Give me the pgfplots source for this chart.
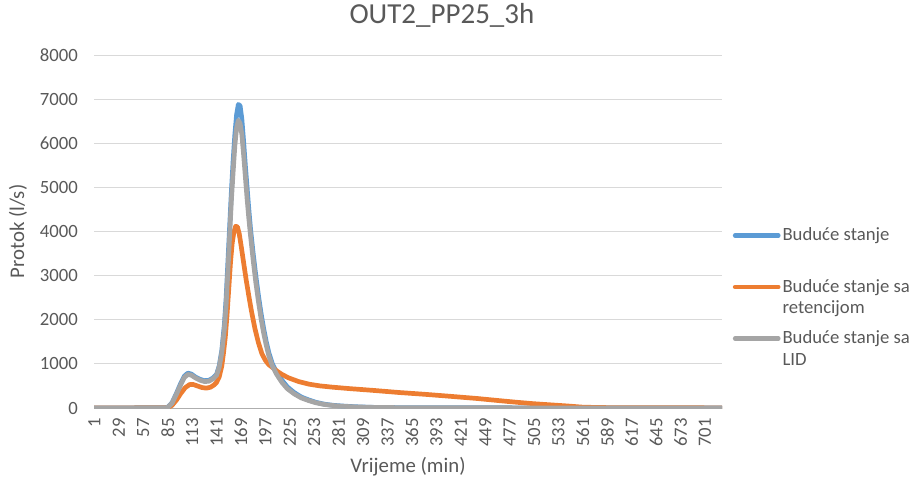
\documentclass[border=0pt]{standalone}
\usepackage{pgfplots}
\pgfplotsset{compat=1.18}
\usepackage{fontspec}
\setmainfont{Carlito}
\definecolor{sblue}{HTML}{5B9BD5}
\definecolor{sorange}{HTML}{ED7D31}
\definecolor{sgray}{HTML}{A5A5A5}
\definecolor{stext}{HTML}{595959}
\definecolor{sgrid}{HTML}{D9D9D9}
\newcommand{\twol}[2]{\vtop{\hbox{#1}\hbox{#2}}}
\begin{document}
\begin{tikzpicture}
\useasboundingbox (0,0) rectangle (909pt,484pt);
\begin{axis}[
  at={(94pt,76pt)}, anchor=south west,
  scale only axis, width=628pt, height=353pt,
  xmin=0.5, xmax=720.5, ymin=0, ymax=8000,
  xtick={1,29,...,701},
  ytick={0,1000,...,8000},
  /pgf/number format/assume math mode=true,
  scaled y ticks=false,
  yticklabel={\pgfmathprintnumber[fixed,set thousands separator={}]{\tick}},
  major tick length=0pt,
  ymajorgrids, grid style={draw=sgrid, line width=1pt},
  axis lines*=left,
  y axis line style={draw=none},
  x axis line style={draw=sgrid!80!black, line width=1pt},
  tick label style={font=\fontsize{18.7}{22}\selectfont, text=stext},
  xticklabel style={rotate=90, anchor=east, inner sep=0pt},
  yticklabel style={anchor=east, inner sep=0pt},
  xticklabel shift=10pt,
  yticklabel shift=16pt,
  title={OUT2\_PP25\_3h},
  title style={at={(axis description cs:0.554,1.095)}, anchor=center, font=\fontsize{29}{34}\selectfont, text=stext},
  xlabel={Vrijeme (min)},
  xlabel style={at={(axis description cs:0.5,-0.167)}, anchor=center, font=\fontsize{20.8}{25}\selectfont, text=stext},
  ylabel={Protok (l/s)},
  ylabel style={at={(axis description cs:-0.121,0.5)}, anchor=center, font=\fontsize{20.8}{25}\selectfont, text=stext},
  legend style={at={(axis description cs:1.017,0.519)}, anchor=north west, draw=none, fill=none,
    font=\fontsize{18.7}{21.5}\selectfont, text=stext, row sep=32pt, inner sep=0pt,
    cells={anchor=base west, text height=14pt, text depth=27pt}},
  legend image code/.code={\draw[#1] (0pt,5.5pt) -- (43pt,5.5pt);},
  every axis plot/.append style={line width=4.7pt, line join=round, line cap=round},
]
\addplot[sblue] coordinates {
(1,0)(20,0)(60,5)(80,5)(85,15)(90,120)(95,330)(100,560)(104,720)(108,790)(112,770)(117,700)(122,650)(127,620)(132,625)(137,680)(141,760)(144,950)(147,1300)(150,1900)(152,2500)(154,3300)(156,4100)(158,4900)(160,5600)(162,6200)(164,6650)(166,6880)(168,6850)(170,6550)(172,6050)(174,5500)(176,5000)(178,4500)(180,4050)(183,3500)(186,3000)(189,2550)(192,2150)(195,1800)(198,1500)(201,1250)(205,1000)(210,800)(216,630)(222,480)(230,350)(238,250)(247,180)(255,128)(265,85)(275,60)(285,45)(300,28)(320,15)(350,8)(400,5)(500,3)(600,1)(720,0)
};
\addlegendentry{Buduće stanje}
\addplot[sorange] coordinates {
(1,0)(20,0)(60,5)(80,5)(85,10)(90,60)(95,180)(100,330)(105,460)(110,530)(114,535)(119,500)(124,465)(129,450)(134,470)(138,520)(141,580)(144,700)(147,950)(149,1250)(151,1600)(153,2100)(155,2700)(157,3300)(159,3750)(161,4000)(163,4120)(165,4100)(167,3950)(169,3700)(172,3300)(175,2900)(178,2540)(181,2200)(185,1800)(189,1480)(193,1230)(197,1080)(201,980)(205,920)(210,840)(216,760)(224,680)(235,600)(247,540)(260,500)(275,470)(293,440)(320,400)(351,350)(380,310)(409,265)(440,215)(466,165)(485,130)(504,98)(525,70)(544,45)(560,20)(580,10)(620,5)(720,3)
};
\addlegendentry{\twol{Buduće stanje sa}{retencijom}}
\addplot[sgray] coordinates {
(1,0)(20,0)(60,5)(80,5)(85,12)(90,110)(95,310)(100,530)(104,690)(108,760)(112,745)(117,680)(122,630)(127,600)(132,605)(137,660)(141,740)(144,920)(147,1250)(150,1800)(152,2350)(154,3100)(156,3900)(158,4700)(160,5350)(162,5950)(164,6350)(166,6520)(168,6450)(170,6200)(172,5750)(174,5250)(176,4750)(178,4300)(180,3900)(183,3350)(186,2850)(189,2420)(192,2030)(195,1700)(198,1420)(201,1180)(205,950)(210,760)(216,580)(222,440)(230,320)(238,230)(247,165)(255,118)(265,78)(275,55)(285,40)(300,25)(320,14)(350,8)(400,5)(500,3)(600,1)(720,0)
};
\addlegendentry{\twol{Buduće stanje sa}{LID}}
\end{axis}
\end{tikzpicture}
\end{document}
